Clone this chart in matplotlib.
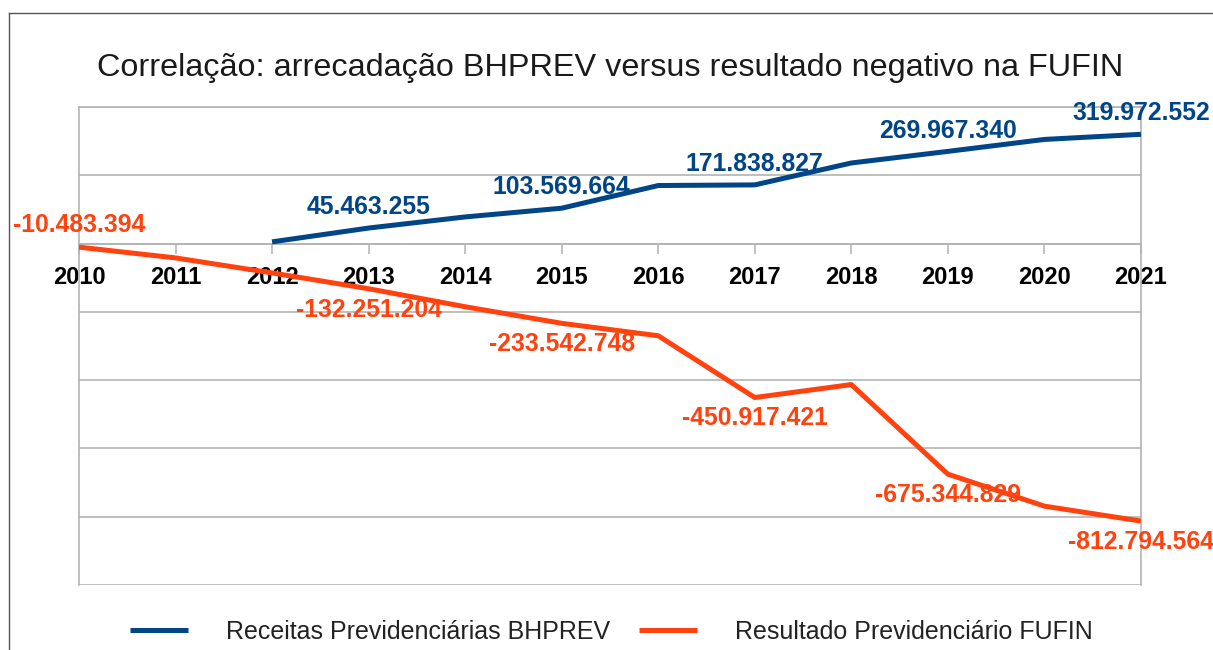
import matplotlib.pyplot as plt
from matplotlib.lines import Line2D

plt.rcParams["font.family"] = ["Liberation Sans", "DejaVu Sans"]

# Data (R$)
years = [2010, 2011, 2012, 2013, 2014, 2015, 2016, 2017, 2018, 2019, 2020, 2021]
receitas_years = [2012, 2013, 2014, 2015, 2016, 2017, 2018, 2019, 2020, 2021]
receitas = [5e6, 45463255, 78e6, 103569664, 170e6, 171838827, 236e6, 269967340, 305e6, 319972552]
resultado = [-10483394, -42e6, -86e6, -132251204, -185e6, -233542748, -270e6,
             -450917421, -413e6, -675344829, -769e6, -812794564]
receitas_label_years = [2013, 2015, 2017, 2019, 2021]
resultado_label_years = [2010, 2013, 2015, 2017, 2019, 2021]

blue = "#004586"
orange = "#ff420e"
grid_color = "#b3b3b3"


def fmt(v):
    s = format(int(round(abs(v))), ",").replace(",", ".")
    return "-" + s if v < 0 else s


fig = plt.figure(figsize=(12.13, 6.5), dpi=100)
ax = fig.add_axes([0.0651, 0.1, 0.8755, 0.7354])

# x axis sits on the zero line (set before styling the ticks, it resets them)
ax.spines["bottom"].set_position(("data", 0))
for side in ["bottom", "top", "left", "right"]:
    ax.spines[side].set_color(grid_color)
    ax.spines[side].set_linewidth(1.2)

ax.plot(receitas_years, receitas, color=blue, lw=3.6, solid_capstyle="butt",
        solid_joinstyle="round", label="Receitas Previdenciárias BHPREV", zorder=3)
ax.plot(years, resultado, color=orange, lw=3.6, solid_capstyle="butt",
        solid_joinstyle="round", label="Resultado Previdenciário FUFIN", zorder=3)

# data labels
for x, y in zip(receitas_years, receitas):
    if x in receitas_label_years:
        ax.annotate(fmt(y), (x, y), xytext=(0, 15), textcoords="offset points",
                    ha="center", va="center", fontsize=17.8, fontweight="bold",
                    color=blue, annotation_clip=False, zorder=4)
for x, y in zip(years, resultado):
    if x in resultado_label_years:
        dy = 16 if x == 2010 else -15
        ax.annotate(fmt(y), (x, y), xytext=(0, dy), textcoords="offset points",
                    ha="center", va="center", fontsize=17.8, fontweight="bold",
                    color=orange, annotation_clip=False, zorder=4)

ax.set_xlim(2010, 2021)
ax.set_ylim(-1e9, 4e8)
ax.set_xticks(years)
ax.set_xticklabels([str(y) for y in years])
ax.set_yticks([-1e9 + 2e8 * i for i in range(8)])
ax.tick_params(axis="y", left=False, labelleft=False)
ax.tick_params(axis="x", direction="out", length=7, width=1.1, color=grid_color,
               pad=9, labelcolor="black", labelsize=17)
for lbl in ax.get_xticklabels():
    lbl.set_fontweight("bold")
ax.grid(axis="y", color=grid_color, lw=1.2)

fig.text(0.503, 0.895, "Correlação: arrecadação BHPREV versus resultado negativo na FUFIN",
         ha="center", va="center", fontsize=23.3, color="#1a1a1a")

fig.legend(loc="center", bbox_to_anchor=(0.504, 0.028), ncol=2, frameon=False,
           fontsize=18, handlelength=2.32, handletextpad=1.52, columnspacing=1.12,
           labelcolor="#222222")

# outer chart frame
fig.add_artist(Line2D([9 / 1213, 1], [1 - 13 / 650, 1 - 13 / 650],
                      transform=fig.transFigure, color="#555555", lw=1))
fig.add_artist(Line2D([9 / 1213, 9 / 1213], [0, 1 - 13 / 650],
                      transform=fig.transFigure, color="#555555", lw=1))

fig.savefig("out.png", dpi=100)
